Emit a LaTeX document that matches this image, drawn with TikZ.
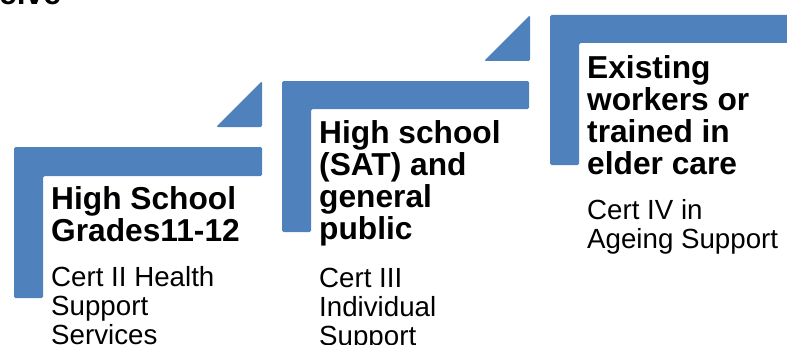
\documentclass[tikz,border=0pt]{standalone}
\usepackage{fontspec}
\setmainfont{Liberation Sans}
\definecolor{stepblue}{HTML}{4F81BD}
\begin{document}
\begin{tikzpicture}[x=1pt,y=-1pt,
  bar/.style={fill=stepblue, rounded corners=1.5pt},
  ttl/.style={anchor=base west, inner sep=0pt, align=left, font=\fontsize{31.7}{32}\selectfont\bfseries},
  bdy/.style={anchor=base west, inner sep=0pt, align=left, font=\fontsize{27.7}{29}\selectfont}]
\useasboundingbox (0,0) rectangle (787,345);
% fragment of a cut-off heading
\node[ttl] (frag) at (-1,5) {eive};
% step 1
\fill[bar] (14,147) -- (262,147) -- (262,176) -- (43,176) -- (43,298) -- (14,298) -- cycle;
\fill[bar] (216,127) -- (262,81) -- (262,127) -- cycle;
% step 2
\fill[bar] (282,81) -- (529,81) -- (529,109) -- (311,109) -- (311,232) -- (282,232) -- cycle;
\fill[bar] (484,61) -- (530,15) -- (530,61) -- cycle;
% step 3
\fill[bar] (550,15) -- (800,15) -- (800,43) -- (579,43) -- (579,165) -- (550,165) -- cycle;
% texts (base anchor = baseline of last line)
\node[ttl] (t1) at (51,241) {High School\\Grades11-12};
\node[bdy] (b1) at (51,344) {Cert II Health\\Support\\Services};
\node[ttl] (t2) at (319,239) {High school\\(SAT) and\\general\\public};
\node[bdy] (b2) at (319,345) {Cert III\\Individual\\Support};
\node[ttl] (t3) at (587,174) {Existing\\workers or\\trained in\\elder care};
\node[bdy] (b3) at (587,248) {Cert IV in\\Ageing Support};
\end{tikzpicture}
\end{document}
